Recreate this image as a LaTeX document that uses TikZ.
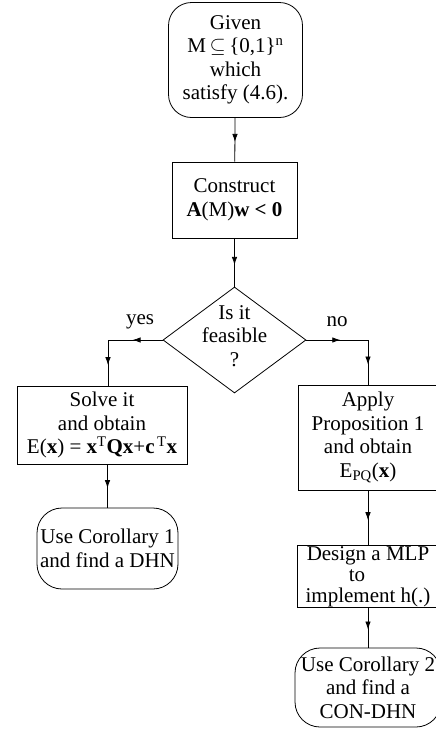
\documentclass[tikz,border=0pt]{standalone}
\usepackage{fontspec}
\setmainfont{Liberation Serif}
\usetikzlibrary{shapes.geometric,decorations.markings,arrows.meta}
\begin{document}
\begin{tikzpicture}[x=1pt,y=-1pt,
  every node/.style={font=\fontsize{21}{23.5}\selectfont, align=center, inner sep=0pt},
  box/.style={draw, rectangle, line width=0.8pt},
  rbox/.style={draw, rectangle, rounded corners=23pt, line width=0.8pt},
  conn/.style={line width=0.8pt, postaction={decorate},
    decoration={markings, mark=at position 0.55 with {\arrow{Latex[length=8pt,width=5.5pt]}}}}]
\useasboundingbox (0,0) rectangle (436,745);
\clip (0,0) rectangle (436,745);
% nodes
\node[rbox, minimum width=134pt, minimum height=115pt] (start) at (235.5,60)
  {Given\\M\,$\subseteq$\,\{0,1\}\textsuperscript{n}\\which\\satisfy (4.6).};
\node[box, minimum width=125pt, minimum height=76pt] (cons) at (234.5,200)
  {Construct\\\textbf{A}(M)\textbf{w < 0}};
\node[draw, diamond, line width=0.8pt, aspect=1.35, minimum width=143pt, minimum height=106pt] (feas) at (234.5,340) {};
\node (feastxt) at (234.5,336) {Is it\\feasible\\?};
\node (yes) at (140,322) {yes};
\node (no) at (337,322) {no};
\node[box, minimum width=170pt, minimum height=78pt] (solve) at (102,425)
  {Solve it\\and obtain\\E(\textbf{x}) = \textbf{x}\textsuperscript{T}\textbf{Qx}+\textbf{c}\textsuperscript{\,T}\textbf{x}};
\node[rbox, rounded corners=25pt, minimum width=141pt, minimum height=81pt] (cor1) at (107.5,548.5)
  {Use Corollary 1\\and find a DHN};
\node[box, minimum width=140pt, minimum height=105pt] (apply) at (368,437.5)
  {Apply\\Proposition 1\\and obtain\\E\textsubscript{PQ}(\textbf{x})};
\node[box, minimum width=142pt, minimum height=62pt] (mlp) at (368,576) {};
\node[font=\fontsize{21}{21}\selectfont] (mlptxt) at (368,577)
  {Design a MLP\\\mbox{to\hspace{22pt}}\\implement h(.)};
\node[rbox, rounded corners=25pt, minimum width=146pt, minimum height=79pt] (cor2) at (368,687.5)
  {Use Corollary 2\\and find a\\CON-DHN};
\coordinate (yc) at (108,340);
\coordinate (nc) at (368,340);
% connectors
\draw[conn] (start) -- (cons);
\draw[conn] (cons) -- (feas);
\draw[conn] (feas.west) -- (yc);
\draw[conn] (yc) -- (yc |- solve.north);
\draw[conn] (feas.east) -- (nc);
\draw[conn] (nc) -- (apply.north);
\draw[conn] (solve.south -| cor1.north) -- (cor1.north);
\draw[conn] (apply) -- (mlp);
\draw[conn] (mlp) -- (cor2);
\end{tikzpicture}
\end{document}
